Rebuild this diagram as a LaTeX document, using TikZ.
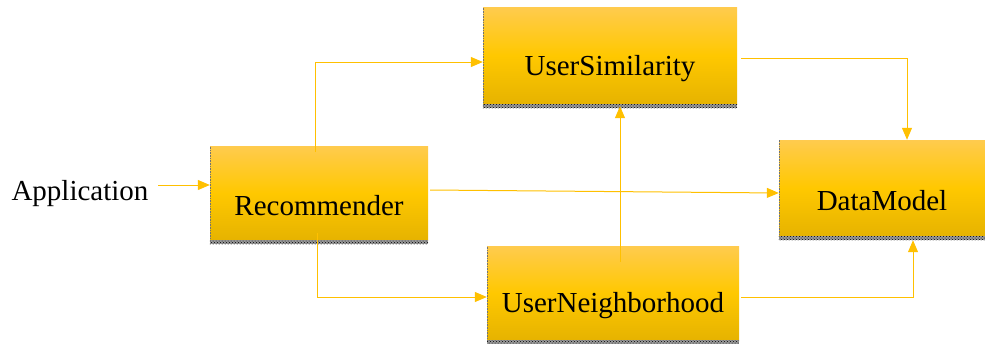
\documentclass[tikz,border=0pt]{standalone}
\usepackage{fontspec}
\setmainfont{Liberation Serif}
\usetikzlibrary{arrows.meta,patterns}
\definecolor{boxtop}{HTML}{FFCB4E}
\definecolor{boxmid}{HTML}{FFC800}
\definecolor{boxbot}{HTML}{E6B300}
\definecolor{wire}{HTML}{FFC000}
\tikzset{
  block/.style={rectangle, inner sep=0pt, top color=boxtop, bottom color=boxbot,
    middle color=boxmid, draw=none},
  lbl/.style={font=\fontsize{29}{34}\selectfont, inner sep=0pt},
  wirearrow/.style={draw=wire, line width=1pt,
    -{Triangle[length=12pt,width=10pt]}},
  ledge/.style={draw=black!55, densely dotted, line width=0.6pt},
}
\newcommand{\blockshadow}[1]{%
  \fill[gray!80] (#1.south west) rectangle ([yshift=-4pt]#1.south east);
  \fill[pattern=crosshatch dots, pattern color=black]
    (#1.south west) rectangle ([yshift=-4pt]#1.south east);
  \draw[ledge] (#1.south west) -- (#1.north west);}
\begin{document}
\begin{tikzpicture}[x=1pt,y=-1pt]
\useasboundingbox (0,0) rectangle (985,343);

% blocks
\node[block, minimum width=254pt, minimum height=97pt] (sim) at (610,55.5) {};
\node[block, minimum width=218pt, minimum height=94pt] (rec) at (319,193) {};
\node[block, minimum width=206pt, minimum height=96pt] (dm)  at (882,188) {};
\node[block, minimum width=252pt, minimum height=94pt] (nb)  at (613,293) {};
\blockshadow{sim}
\blockshadow{rec}
\blockshadow{dm}
\blockshadow{nb}

% labels
\node[lbl] (simt) at ([yshift=-13pt]sim.center) {UserSimilarity};
\node[lbl] (rect) at ([yshift=-13pt]rec.center) {Recommender};
\node[lbl] (dmt)  at ([yshift=-13pt]dm.center) {DataModel};
\node[lbl] (nbt)  at ([yshift=-13pt]nb.center) {UserNeighborhood};
\node[lbl] (app)  at (80,194) {Application};

% connector end points
\coordinate (a0) at (158,185);
\coordinate (r1) at (315,152);
\coordinate (r2) at (317,233);
\coordinate (r3) at (430,190);
\coordinate (s1) at (741,58);
\coordinate (n1) at (620,262);
\coordinate (n2) at (741,297);

% connectors
\draw[wirearrow] (a0) -- (a0 -| rec.west);
\draw[wirearrow] (r1) |- (sim.west |- 0,62);
\draw[wirearrow] (r2) |- (nb.west |- 0,297);
\draw[wirearrow] (r3) -- (dm.west |- 0,193);
\draw[wirearrow] (s1) -| (dm.north -| 907,0);
\draw[wirearrow] (n1) -- ([yshift=-2pt]n1 |- sim.south);
\draw[wirearrow] (n2) -| ([yshift=-4pt]913,0 |- dm.south);
\end{tikzpicture}
\end{document}
